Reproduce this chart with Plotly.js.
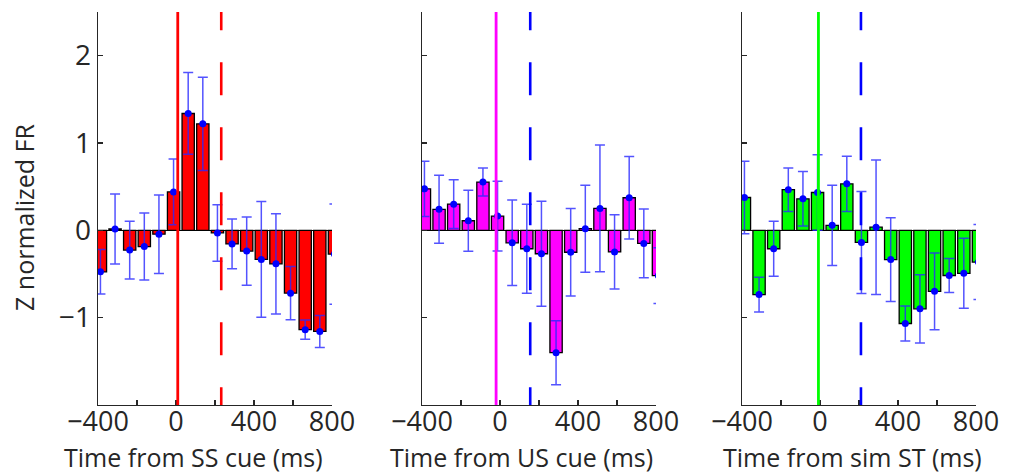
<!DOCTYPE html>
<html>
<head>
<meta charset="utf-8">
<script src="https://cdn.plot.ly/plotly-3.0.1.min.js"></script>
<style>html,body{margin:0;padding:0;background:#fff;}#chart{width:1015px;height:474px;}</style>
</head>
<body>
<div id="chart"></div>
<script>
// Bin centres (ms)
const binCenters = [-387.5, -312.5, -237.5, -162.5, -87.5, -12.5, 62.5, 137.5, 212.5, 287.5, 362.5, 437.5, 512.5, 587.5, 662.5, 737.5, 812.5];

// Panel 1: Time from SS cue
const ssValues = [-0.475, 0.015, -0.226, -0.186, -0.044, 0.44, 1.338, 1.219, -0.03, -0.156, -0.238, -0.333, -0.384, -0.719, -1.137, -1.158, -0.272];
const ssErrors = [0.255, 0.40, 0.33, 0.384, 0.45, 0.376, 0.468, 0.534, 0.323, 0.285, 0.39, 0.663, 0.574, 0.304, 0.11, 0.184, 0.574];

// Panel 2: Time from US cue
const usValues = [0.475, 0.241, 0.30, 0.11, 0.553, 0.163, -0.143, -0.211, -0.268, -1.401, -0.251, 0.019, 0.251, -0.247, 0.373, -0.15, -0.519];
const usErrors = [0.316, 0.39, 0.278, 0.35, 0.16, 0.40, 0.49, 0.51, 0.60, 0.367, 0.50, 0.498, 0.726, 0.426, 0.471, 0.394, 0.32];

// Panel 3: Time from sim ST
const stValues = [0.376, -0.736, -0.211, 0.466, 0.361, 0.433, 0.057, 0.532, -0.139, 0.036, -0.335, -1.067, -0.899, -0.698, -0.517, -0.492, -0.363];
const stErrors = [0.414, 0.20, 0.314, 0.249, 0.312, 0.433, 0.46, 0.316, 0.584, 0.77, 0.479, 0.20, 0.39, 0.439, 0.194, 0.40, 0.43];

// Event markers (ms): solid line, dashed line
const ssEvents = [9, 232];
const usEvents = [-20, 155];
const stEvents = [-8, 210];

const xTickVals = [-400, -200, 0, 200, 400, 600, 800];
const xTickText = ['\u2212400', '', '0', '', '400', '', '800'];
const yTickVals = [-1, 0, 1, 2];
const yTickText = ['\u22121', '0', '1', '2'];

const xTitles = ['Time from SS cue (ms)', 'Time from US cue (ms)', 'Time from sim ST (ms)'];
const yTitle = 'Z normalized FR';

const panels = [
  {vals: ssValues, errs: ssErrors, color: '#ff0000', ev: ssEvents, solidColor: '#ff0000', dashColor: '#ff0000'},
  {vals: usValues, errs: usErrors, color: '#ff00ff', ev: usEvents, solidColor: '#ff00ff', dashColor: '#0000ff'},
  {vals: stValues, errs: stErrors, color: '#00ff00', ev: stEvents, solidColor: '#00ff00', dashColor: '#0000ff'}
];

const W = 1015, H = 474;
const xDomPx = [[98, 332], [422, 656], [742, 976]];
const yDomPx = [12, 405];
const titleCx = [193, 521, 852];

const FONT = 'Open Sans, Noto Sans, sans-serif';
const TXT = '#262626';

const data = [];
const layout = {
  width: W, height: H,
  margin: {l: 0, r: 0, t: 0, b: 0},
  paper_bgcolor: '#ffffff', plot_bgcolor: '#ffffff',
  showlegend: false,
  font: {family: FONT, color: TXT},
  shapes: [],
  annotations: []
};

panels.forEach((p, i) => {
  const n = i === 0 ? '' : String(i + 1);
  const xa = 'x' + n, ya = 'y' + n;
  data.push({
    type: 'bar', x: binCenters, y: p.vals, width: 63,
    xaxis: xa, yaxis: ya,
    marker: {color: p.color, line: {color: '#000000', width: 1.3}},
    hoverinfo: 'skip'
  });
  data.push({
    type: 'scatter', mode: 'markers', x: binCenters, y: p.vals,
    xaxis: xa, yaxis: ya,
    marker: {color: '#0000ff', size: 7},
    error_y: {type: 'data', array: p.errs, visible: true, color: 'rgba(40,40,255,0.8)', thickness: 1.5, width: 5},
    hoverinfo: 'skip'
  });
  layout['xaxis' + n] = {
    domain: [xDomPx[i][0] / W, xDomPx[i][1] / W],
    anchor: ya, range: [-400, 800],
    tickvals: xTickVals, ticktext: xTickText,
    ticks: 'inside', ticklen: 5, tickwidth: 1.2, tickcolor: TXT,
    showline: true, linecolor: TXT, linewidth: 1.3,
    showgrid: false, zeroline: false,
    ticklabelstandoff: -8,
    tickfont: {family: FONT, size: 27, color: TXT}
  };
  layout['yaxis' + n] = {
    domain: [1 - yDomPx[1] / H, 1 - yDomPx[0] / H],
    anchor: xa, range: [-2, 2.5],
    tickvals: yTickVals, ticktext: yTickText,
    ticks: 'inside', ticklen: 5, tickwidth: 1.2, tickcolor: TXT,
    showline: true, linecolor: TXT, linewidth: 1.3,
    showgrid: false, zeroline: true, zerolinecolor: '#000000', zerolinewidth: 1.5,
    showticklabels: i === 0,
    tickfont: {family: FONT, size: 28, color: TXT}
  };
  layout.shapes.push({
    type: 'line', xref: xa, yref: ya, x0: p.ev[0], x1: p.ev[0], y0: -2, y1: 2.5,
    line: {color: p.solidColor, width: 2.8}, layer: 'above'
  });
  layout.shapes.push({
    type: 'line', xref: xa, yref: ya, x0: p.ev[1], x1: p.ev[1], y0: 2.67, y1: -2.2,
    line: {color: p.dashColor, width: 2.6, dash: '33px,32px'}, layer: 'above'
  });
  layout.annotations.push({
    xref: 'paper', yref: 'paper', x: titleCx[i] / W, y: 1 - 457 / H,
    xanchor: 'center', yanchor: 'middle', showarrow: false,
    text: xTitles[i], font: {family: FONT, size: 25, color: TXT}
  });
});

layout.annotations.push({
  xref: 'paper', yref: 'paper', x: 24 / W, y: 1 - 218 / H,
  xanchor: 'center', yanchor: 'middle', showarrow: false, textangle: -90,
  text: yTitle, font: {family: FONT, size: 25, color: TXT}
});

Plotly.newPlot('chart', data, layout, {staticPlot: true, displayModeBar: false});
</script>
</body>
</html>
